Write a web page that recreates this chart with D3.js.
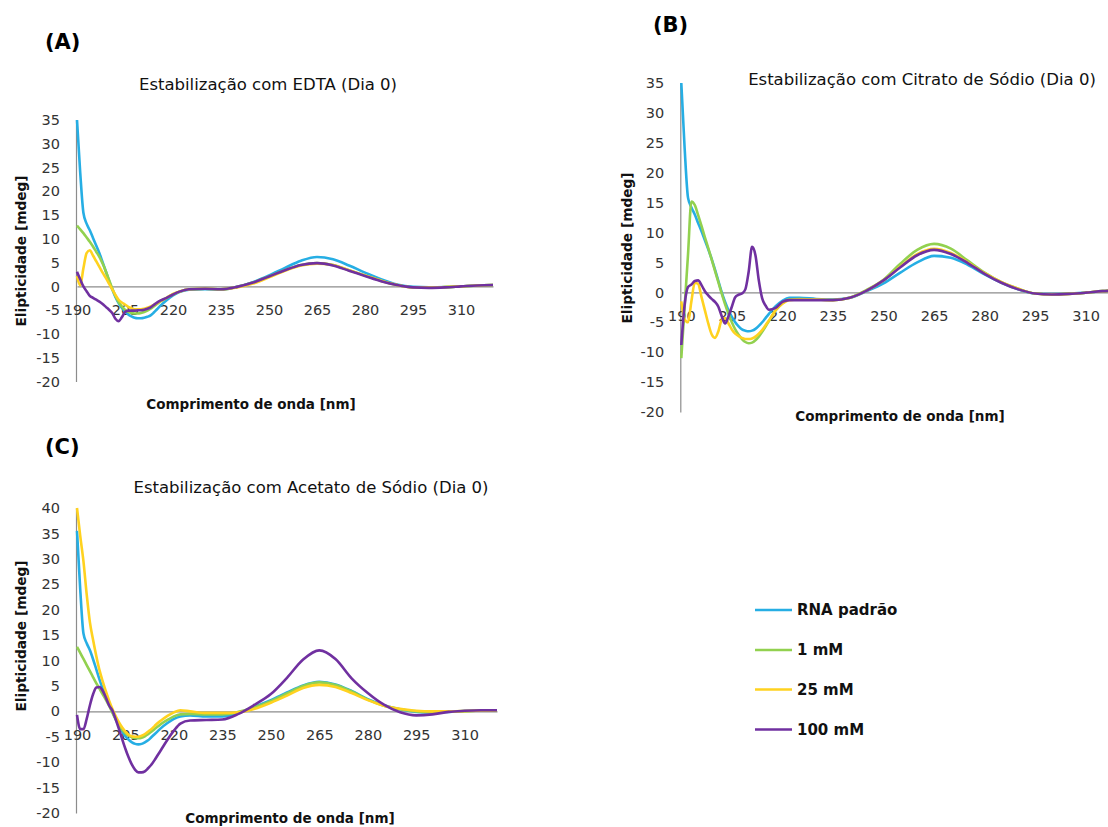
<!DOCTYPE html>
<html>
<head>
<meta charset="utf-8">
<script src="https://cdn.jsdelivr.net/npm/d3@7"></script>
<style>
  html, body { margin: 0; padding: 0; background: #fff; }
  svg { display: block; }
  text { font-family: "DejaVu Sans", Verdana, sans-serif; }
</style>
</head>
<body>
<svg id="chart" width="1108" height="827"></svg>
<script>
// Wavelength grid (nm) shared by all spectra
const wavelength = [190,191,192,193,194,195,196,197,198,199,200,201,202,203,204,205,206,207,208,209,
  210,211,212,213,214,215,216,218,220,222,225,230,235,240,245,250,255,260,265,270,275,280,285,290,295,300,305,310,315,320];

// (A) EDTA
const edtaPadrao = [35,24,15.5,13.2,11.8,10.2,8.6,7,5.1,3.2,1.2,-0.6,-2.2,-3.5,-4.5,-5.3,-5.9,-6.3,-6.6,-6.7,
  -6.7,-6.6,-6.4,-6.1,-5.5,-4.8,-4.1,-2.9,-1.9,-1.2,-0.7,-0.6,-0.7,-0.1,0.9,2.3,3.9,5.4,6.2,5.7,4.4,2.9,1.5,0.4,-0.1,-0.2,-0.15,0,0.2,0.3];
const edta1mM = [12.8,12,11.2,10.3,9.4,8.4,7.3,6.2,4.8,3.2,1.4,-0.4,-2,-3.3,-4.2,-4.9,-5.3,-5.6,-5.7,-5.7,
  -5.6,-5.4,-5.1,-4.7,-4.2,-3.7,-3.2,-2.4,-1.7,-1.1,-0.6,-0.5,-0.6,-0.1,0.8,2.1,3.4,4.5,4.9,4.5,3.4,2.3,1.2,0.3,-0.2,-0.25,-0.15,0,0.2,0.3];
const edta25mM = [2.2,0.2,3.8,7,7.6,6.5,5.3,4.1,2.9,1.8,0.6,-0.6,-1.8,-2.8,-3.4,-3.8,-4.3,-4.6,-4.8,-4.8,
  -4.8,-4.7,-4.5,-4.2,-3.9,-3.5,-3.1,-2.4,-1.6,-1.1,-0.6,-0.5,-0.6,-0.2,0.6,1.9,3.3,4.4,4.8,4.5,3.4,2.3,1.2,0.3,-0.2,-0.25,-0.15,0,0.2,0.3];
const edta100mM = [3.1,1.5,0,-1,-2,-2.4,-2.8,-3.2,-3.7,-4.3,-4.9,-5.6,-6.8,-7.3,-6.5,-5.4,-5.1,-5.1,-5.1,-5,
  -5,-4.9,-4.7,-4.4,-3.9,-3.4,-3,-2.4,-1.7,-1.1,-0.6,-0.5,-0.6,-0.1,0.8,2.1,3.4,4.5,4.9,4.4,3.3,2.2,1.1,0.3,-0.2,-0.3,-0.2,0,0.2,0.3];

// (B) Citrato de Sódio
const citratoPadrao = [35,24,15.8,14.2,13,11.6,10.2,8.7,7.2,5.6,3.8,1.9,0,-1.6,-3,-4.1,-5,-5.7,-6.2,-6.4,
  -6.5,-6.4,-6.1,-5.6,-5,-4.3,-3.6,-2.3,-1.4,-0.9,-0.9,-1.1,-1.2,-0.9,0.2,1.5,3.3,5,6.1,5.8,4.6,3,1.6,0.5,-0.2,-0.3,-0.2,-0.05,0.2,0.3];
const citrato1mM = [-11,-2.3,6.4,15.2,14.6,12.9,11.1,9.2,7.4,5.5,3.6,1.7,-0.2,-2,-3.6,-5,-6.2,-7.1,-7.8,-8.3,
  -8.5,-8.4,-8,-7.4,-6.6,-5.7,-4.8,-3,-1.8,-1.2,-1.1,-1.2,-1.3,-0.9,0.4,2.1,4.8,7.1,8.1,7.3,5.3,3.3,1.7,0.6,-0.2,-0.35,-0.25,-0.05,0.2,0.3];
const citrato25mM = [-1.5,-4.5,-5,-1.5,1.6,1.4,-0.8,-3,-5.2,-7,-7.6,-6.5,-4.6,-4.3,-5.2,-6.2,-6.9,-7.3,-7.6,-7.8,
  -7.8,-7.7,-7.4,-6.9,-6.3,-5.5,-4.7,-3,-1.9,-1.3,-1.2,-1.2,-1.3,-0.9,0.3,2,4.3,6.4,7.3,6.6,5,3.2,1.7,0.6,-0.2,-0.35,-0.25,-0.05,0.2,0.3];
const citrato100mM = [-8.8,-2,0.9,1.3,1.9,2,1.2,0.2,-0.5,-1.1,-1.6,-2.4,-4,-5.2,-4,-2.4,-0.8,-0.4,-0.2,0.5,
  3.5,7.6,6.2,2,-1,-2.2,-2.9,-2.6,-1.6,-1.3,-1.3,-1.3,-1.3,-0.9,0.3,2,4.2,6.2,7.1,6.4,4.9,3.1,1.6,0.5,-0.2,-0.35,-0.25,-0.05,0.2,0.3];

// (C) Acetato de Sódio
const acetatoPadrao = [35.5,24,15.3,13.4,12,10.2,8.2,6.2,4.4,2.8,1.3,-0.2,-1.6,-2.9,-4,-4.9,-5.6,-6.1,-6.4,-6.5,
  -6.4,-6.1,-5.7,-5.1,-4.5,-3.9,-3.3,-2.3,-1.5,-1,-0.8,-1,-1,-0.3,0.9,2.2,3.7,5.1,5.8,5.3,4,2.4,1.2,0.4,-0.1,-0.2,-0.1,0.05,0.15,0.2];
const acetato1mM = [12.7,11.5,10.3,9.1,7.9,6.7,5.5,4.4,3.3,2.2,1,-0.3,-1.6,-2.7,-3.6,-4.3,-4.8,-5.1,-5.3,-5.3,
  -5.2,-4.9,-4.5,-4,-3.5,-3,-2.5,-1.7,-1,-0.6,-0.5,-0.6,-0.6,-0.1,0.8,2,3.5,5,5.7,5.2,3.9,2.3,1.1,0.4,0,-0.1,-0.05,0.05,0.15,0.2];
const acetato25mM = [40,34.5,29.5,23,17.5,14,10.8,8,5.8,3.8,2,0.4,-1,-2.2,-3.2,-4,-4.6,-4.9,-5,-5,
  -4.8,-4.5,-4,-3.5,-2.9,-2.3,-1.8,-0.9,-0.2,0.2,0,-0.3,-0.3,-0.2,0.5,1.7,3.1,4.6,5.2,4.8,3.6,2.2,1.1,0.5,0.1,0,0,0.05,0.15,0.2];
const acetato100mM = [-0.7,-3.5,-3.5,-1.5,1.2,3.4,4.7,4.8,4,2.6,1.1,0.1,-1.6,-3.5,-5.5,-7.4,-9.1,-10.5,-11.5,-12,
  -12,-11.8,-11.2,-10.5,-9.6,-8.6,-7.6,-5.6,-3.8,-2.4,-1.8,-1.7,-1.6,-0.5,1.3,3.4,6.6,10.2,12,10.3,6.5,3.6,1.3,-0.2,-0.8,-0.6,-0.1,0.1,0.2,0.2];

// Legend / series labels and tick labels
const seriesNames = ["RNA padrão", "1 mM", "25 mM", "100 mM"];
const xTickValues = [190, 205, 220, 235, 250, 265, 280, 295, 310];
const yTicksAB = [-20, -15, -10, -5, 0, 5, 10, 15, 20, 25, 30, 35];
const yTicksC = [-20, -15, -10, -5, 0, 5, 10, 15, 20, 25, 30, 35, 40];

const seriesColors = ["#26AEE4", "#92D14F", "#FFD21F", "#7030A0"];

const panels = [
  { tag: "(A)", title: "Estabilização com EDTA (Dia 0)",
    series: [edtaPadrao, edta1mM, edta25mM, edta100mM], yTicks: yTicksAB,
    xRange: [77, 493], yRange: [381.5, 120], tagPos: [45, 49], titlePos: [268, 90],
    yTitlePos: [21, 251], xTitlePos: [251, 409] },
  { tag: "(B)", title: "Estabilização com Citrato de Sódio (Dia 0)",
    series: [citratoPadrao, citrato1mM, citrato25mM, citrato100mM], yTicks: yTicksAB,
    xRange: [681.3, 1119.4], yRange: [412, 83], tagPos: [653, 32], titlePos: [922, 85],
    yTitlePos: [627, 248], xTitlePos: [900, 421] },
  { tag: "(C)", title: "Estabilização com Acetato de Sódio (Dia 0)",
    series: [acetatoPadrao, acetato1mM, acetato25mM, acetato100mM], yTicks: yTicksC,
    xRange: [77, 497], yRange: [813, 508], tagPos: [45, 454], titlePos: [311, 493],
    yTitlePos: [21, 636], xTitlePos: [290, 823] }
];

const svg = d3.select("#chart");
svg.append("rect").attr("width", 1108).attr("height", 827).attr("fill", "#fff");

const plain = d => String(d);

panels.forEach(p => {
  const x = d3.scaleLinear().domain([190, 320]).range(p.xRange);
  const yMin = d3.min(p.yTicks), yMax = d3.max(p.yTicks);
  const y = d3.scaleLinear().domain([yMin, yMax]).range(p.yRange);
  const g = svg.append("g");

  // y axis
  const yAxis = g.append("g")
    .attr("transform", `translate(${p.xRange[0] - 1},0)`)
    .call(d3.axisLeft(y).tickValues(p.yTicks).tickFormat(plain)
      .tickSize(0).tickSizeOuter(0).tickPadding(16));
  // x axis along zero
  const xAxis = g.append("g")
    .attr("transform", `translate(0,${y(0)})`)
    .call(d3.axisBottom(x).tickValues(xTickValues).tickFormat(plain)
      .tickSize(0).tickSizeOuter(0).tickPadding(18));

  [yAxis, xAxis].forEach(a => {
    a.select(".domain").attr("stroke", "#8c8c8c").attr("stroke-width", 1.2);
    a.selectAll("text").attr("font-size", 14.5).attr("fill", "#333")
      .attr("font-family", "'DejaVu Sans', Verdana, sans-serif");
  });

  // spectra
  const line = d3.line()
    .x((d, i) => x(wavelength[i]))
    .y(d => y(d))
    .curve(d3.curveMonotoneX);
  p.series.forEach((vals, k) => {
    g.append("path")
      .datum(vals)
      .attr("fill", "none")
      .attr("stroke", seriesColors[k])
      .attr("stroke-width", 2.6)
      .attr("stroke-linejoin", "round")
      .attr("d", line);
  });

  // panel tag
  g.append("text").attr("x", p.tagPos[0]).attr("y", p.tagPos[1])
    .attr("font-size", 21).attr("font-weight", "bold").attr("fill", "#000").text(p.tag);
  // title
  g.append("text").attr("x", p.titlePos[0]).attr("y", p.titlePos[1])
    .attr("text-anchor", "middle").attr("font-size", 16.5).attr("fill", "#111").text(p.title);
  // axis titles
  g.append("text")
    .attr("transform", `translate(${p.yTitlePos[0]},${p.yTitlePos[1]}) rotate(-90)`)
    .attr("text-anchor", "middle").attr("dy", "0.35em")
    .attr("font-size", 13.7).attr("font-weight", "bold").attr("fill", "#111")
    .text("Elipticidade [mdeg]");
  g.append("text").attr("x", p.xTitlePos[0]).attr("y", p.xTitlePos[1])
    .attr("text-anchor", "middle").attr("font-size", 13.5).attr("font-weight", "bold").attr("fill", "#111")
    .text("Comprimento de onda [nm]");
});

// legend
const legendRows = [610, 650, 689.5, 729.5];
const legend = svg.append("g");
seriesNames.forEach((name, k) => {
  legend.append("line")
    .attr("x1", 755).attr("x2", 792)
    .attr("y1", legendRows[k]).attr("y2", legendRows[k])
    .attr("stroke", seriesColors[k]).attr("stroke-width", 2.6);
  legend.append("text")
    .attr("x", 797).attr("y", legendRows[k]).attr("dy", "0.36em")
    .attr("font-size", 15).attr("font-weight", "bold").attr("fill", "#111")
    .text(name);
});
</script>
</body>
</html>
